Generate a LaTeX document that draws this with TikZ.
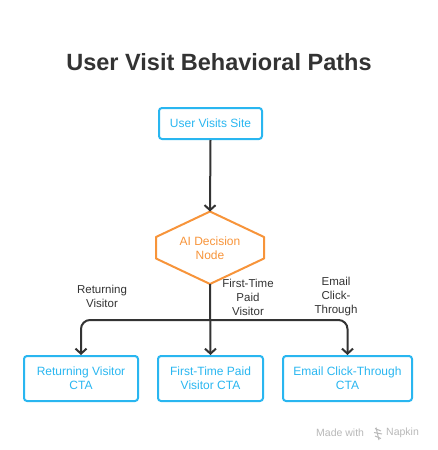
\documentclass[tikz,border=0pt]{standalone}
\usepackage{fontspec}
\setmainfont{Liberation Sans}
\usetikzlibrary{arrows.meta}
\definecolor{cyanb}{HTML}{29B6F0}
\definecolor{orng}{HTML}{F7943A}
\definecolor{dark}{HTML}{333333}
\definecolor{wm}{HTML}{B8B8B8}
\tikzset{
  box/.style={draw=cyanb, line width=2pt, rounded corners=3pt, text=cyanb, align=center, font=\fontsize{12}{14}\selectfont, inner sep=0pt},
  lbl/.style={text=dark, align=center, font=\fontsize{11.5}{14}\selectfont, inner sep=0pt},
  arr/.style={draw=dark, line width=2pt, -{Straight Barb[length=5pt,width=11pt,line width=2pt]}},
}
\begin{document}
\begin{tikzpicture}[x=1pt,y=-1pt]
\useasboundingbox (0,0) rectangle (438,450);
\node[font=\bfseries\fontsize{23.5}{26}\selectfont, text=dark] (title) at (219,62) {User Visit Behavioral Paths};
\node[box, minimum width=103pt, minimum height=31pt] (top) at (210.5,123.5) {User Visits Site};
% hexagon
\node[text=orng, align=center, font=\fontsize{12}{14}\selectfont, inner sep=0pt] (hex) at (210,248) {AI Decision\\Node};
\coordinate (ht) at (210,211.5);
\coordinate (hb) at (210,284);
\draw[orng, line width=2pt, line join=round] (ht) -- (264,237) -- (264,258.5) -- (hb) -- (156,258.5) -- (156,237) -- cycle;
\node[box, minimum width=114pt, minimum height=45pt] (left) at (81,378.5) {Returning Visitor\\CTA};
\node[box, minimum width=105pt, minimum height=45pt] (mid) at (210.5,378.5) {First-Time Paid\\Visitor CTA};
\node[box, minimum width=129pt, minimum height=45pt] (right) at (347.5,378.5) {Email Click-Through\\CTA};
\draw[arr] (top.south) -- (ht);
\draw[arr] (hb) -- (mid.north);
\coordinate (j) at (210,320);
\draw[arr, rounded corners=9pt] (j) -| (left.north);
\draw[arr, rounded corners=9pt] (j) -| (right.north);
\node[lbl] (l1) at (102,296.5) {Returning\\Visitor};
\node[lbl] (l2) at (248,297) {First-Time\\Paid\\Visitor};
\node[lbl] (l3) at (336,297) {Email\\Click-\\Through};
\node[text=wm, font=\fontsize{10.5}{12}\selectfont, inner sep=0pt, anchor=west] (wm1) at (316,433) {Made with};
\draw[wm, line width=1pt] (375,428.5) -- (381,431) (374,432.5) -- (382,434) (375,436) -- (381,438.5) (376,427.5) -- (379,440);
\node[text=wm, font=\fontsize{10.5}{12}\selectfont, inner sep=0pt, anchor=west] (wm2) at (386,433) {Napkin};
\end{tikzpicture}
\end{document}
